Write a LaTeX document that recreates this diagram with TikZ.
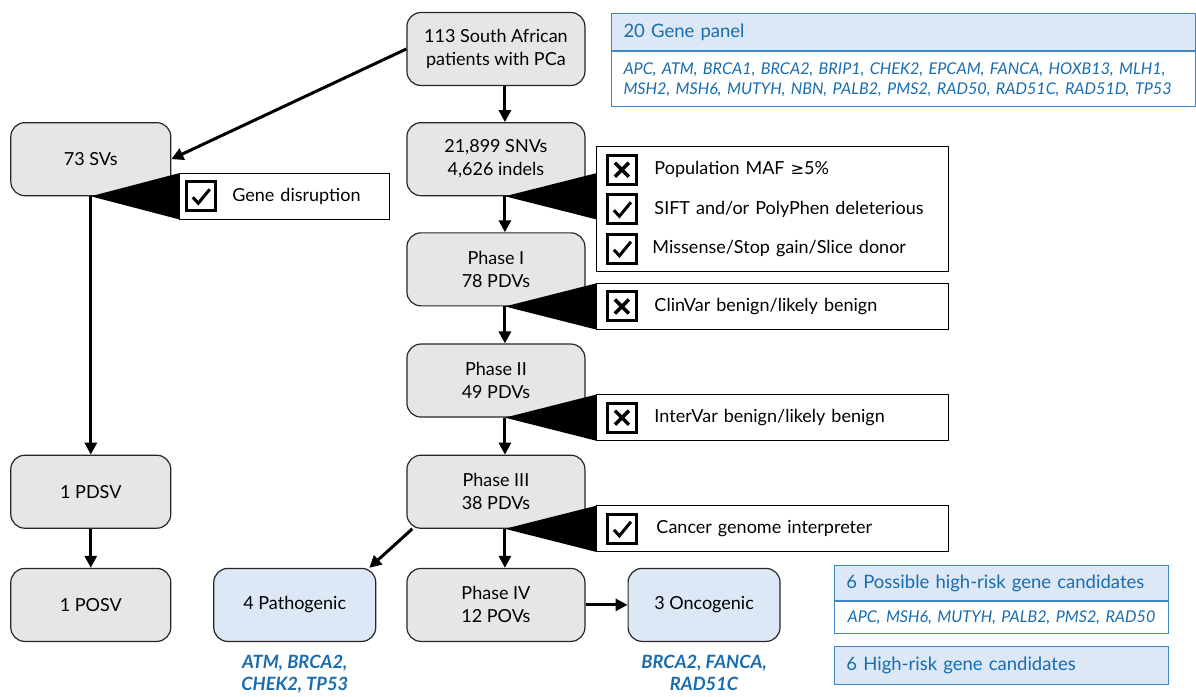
\documentclass[tikz,border=0pt]{standalone}
\usepackage{fontspec}
\setmainfont{Lato}
\newfontfamily\symfont[Scale=0.9]{DejaVu Sans}
\usetikzlibrary{calc,positioning,arrows.meta}
\definecolor{boxgray}{RGB}{230,230,230}
\definecolor{panelblue}{RGB}{220,232,245}
\definecolor{textblue}{RGB}{24,108,176}
\definecolor{lineblue}{RGB}{62,136,200}

\begin{document}
\begin{tikzpicture}[
  x=1pt, y=-1pt,
  graybox/.style={
    draw=black!85,
    line width=1.2pt,
    rounded corners=14pt,
    fill=boxgray,
    minimum width=178pt,
    minimum height=73pt,
    align=center,
    font=\fontsize{18}{23}\selectfont
    },
  bluebox/.style={
    graybox,
    fill=panelblue
    },
  callout/.style={
    draw,
    line width=1.2pt,
    fill=white,
    anchor=west,
    minimum width=352pt,
    minimum height=46pt,
    inner xsep=8pt,
    text width=336pt,
    align=left,
    font=\fontsize{18}{39.5}\selectfont
    },
  panelhead/.style={
    draw=lineblue,
    line width=1.2pt,
    fill=panelblue,
    text=textblue,
    anchor=north west,
    inner xsep=12pt,
    align=left,
    font=\fontsize{18.5}{20}\selectfont
    },
  panelbody/.style={
    panelhead,
    fill=white,
    anchor=north,
    font=\fontsize{16.2}{20}\selectfont\itshape
    },
  genes/.style={
    text=textblue,
    align=center,
    anchor=north,
    font=\fontsize{18.3}{22}\selectfont\bfseries\itshape
    },
  flow/.style={
    line width=3pt,
    -{Triangle[length=12pt,width=12pt]}
    },
  tickbox/.pic={
    \draw[line width=3pt] (-14.5,-14.5) rectangle (14.5,14.5);
    \draw[line width=3pt] (-8,1) -- (-2.5,7) -- (9,-7);
    },
  crossbox/.pic={
    \draw[line width=3pt] (-14.5,-14.5) rectangle (14.5,14.5);
    \draw[line width=3.5pt] (-7,-7) -- (7,7) (-7,7) -- (7,-7);
    }
]

% filtering column
\node[graybox] at (496,49) (top) {113 South African\\patients with PCa};
\node[graybox, below=36pt of top] (snv) {21,899 SNVs\\4,626 indels};
\node[graybox, below=36pt of snv] (ph1) {Phase I\\78 PDVs};
\node[graybox, below=37pt of ph1] (ph2) {Phase II\\49 PDVs};
\node[graybox, below=37pt of ph2] (ph3) {Phase III\\38 PDVs};
\node[graybox, below=39pt of ph3] (ph4) {Phase IV\\12 POVs};

% structural variants
\node[graybox, minimum width=160pt, left=235pt of snv] (sv) {73 SVs};
\node[graybox, minimum width=160pt] at (sv |- ph3) (pdsv) {1 PDSV};
\node[graybox, minimum width=160pt] at (sv |- ph4) (posv) {1 POSV};

% results
\node[bluebox, minimum width=162pt, left=30pt of ph4] (patho) {4 Pathogenic};
\node[bluebox, minimum width=152pt, right=42pt of ph4] (onco) {3 Oncogenic};
\node[genes, below=10pt of patho] (pathogenes) {ATM, BRCA2,\\CHEK2, TP53};
\node[genes, below=10pt of onco] (oncogenes) {BRCA2, FANCA,\\RAD51C};

% filter wedges
\fill ([xshift=0pt]sv.south) -- ++(88,-23) -- ++(0,46) -- cycle;
\foreach \n in {snv, ph1, ph2, ph3}
  \fill ([xshift=9pt]\n.south) -- ++(91,-23) -- ++(0,46) -- cycle;

% filter boxes
\node[callout, minimum width=210pt, text width=194pt] at ([xshift=88pt]sv.south) (gd)
  {\hspace*{45pt}Gene disruption};
\node[callout, minimum height=125pt] at ($(snv.south)+(100,13)$) (filt)
  {\hspace*{50pt}Population MAF {\symfont ≥}5\%\\
   \hspace*{50pt}SIFT and/or PolyPhen deleterious\\
   \hspace*{48pt}Missense/Stop gain/Slice donor};
\node[callout] at ([xshift=100pt]ph1.south) (cv) {\hspace*{50pt}ClinVar benign/likely benign};
\node[callout] at ([xshift=100pt]ph2.south) (iv) {\hspace*{50pt}InterVar benign/likely benign};
\node[callout] at ([xshift=100pt]ph3.south) (cgi) {\hspace*{52pt}Cancer genome interpreter};

\pic at ([xshift=22pt]gd.west) {tickbox};
\pic at ([xshift=26pt,yshift=39.5pt]filt.west) {crossbox};
\pic at ([xshift=26pt]filt.west) {tickbox};
\pic at ([xshift=26pt,yshift=-39.5pt]filt.west) {tickbox};
\pic at ([xshift=26pt]cv.west) {crossbox};
\pic at ([xshift=26pt]iv.west) {crossbox};
\pic at ([xshift=26pt]cgi.west) {tickbox};

% arrows
\foreach \a/\b in {top/snv, snv/ph1, ph1/ph2, ph2/ph3, ph3/ph4}
  \draw[flow] ([xshift=9pt]\a.south) -- ([xshift=9pt]\b.north);
\draw[flow] (top.west) -- (sv.east);
\draw[flow] (sv.south) -- (pdsv.north);
\draw[flow] (pdsv.south) -- (posv.north);
\draw[flow] ([xshift=6pt]ph3.south west) -- ([xshift=-7pt]patho.north east);
\draw[flow] (ph4.east) -- (onco.west);

% gene panels
\node[panelhead, minimum width=584pt, minimum height=37pt, text width=560pt] at (611,13) (panel)
  {20 Gene panel};
\node[panelbody, minimum width=584pt, minimum height=55pt, text width=560pt, below=0pt of panel] (panelgenes)
  {APC, ATM, BRCA1, BRCA2, BRIP1, CHEK2, EPCAM, FANCA, HOXB13, MLH1,\\
   MSH2, MSH6, MUTYH, NBN, PALB2, PMS2, RAD50, RAD51C, RAD51D, TP53};
\node[panelhead, minimum width=334pt, minimum height=35pt, text width=310pt] at (834,565) (possible)
  {6 Possible high-risk gene candidates};
\node[panelbody, minimum width=334pt, minimum height=32pt, inner xsep=5pt, text width=324pt, align=center, below=0pt of possible] (possiblegenes)
  {APC, MSH6, MUTYH, PALB2, PMS2, RAD50};
\node[panelhead, minimum width=334pt, minimum height=38pt, text width=310pt] at (834,646) (highrisk)
  {6 High-risk gene candidates};

\useasboundingbox (0,0) rectangle (1196,686);
\end{tikzpicture}
\end{document}
